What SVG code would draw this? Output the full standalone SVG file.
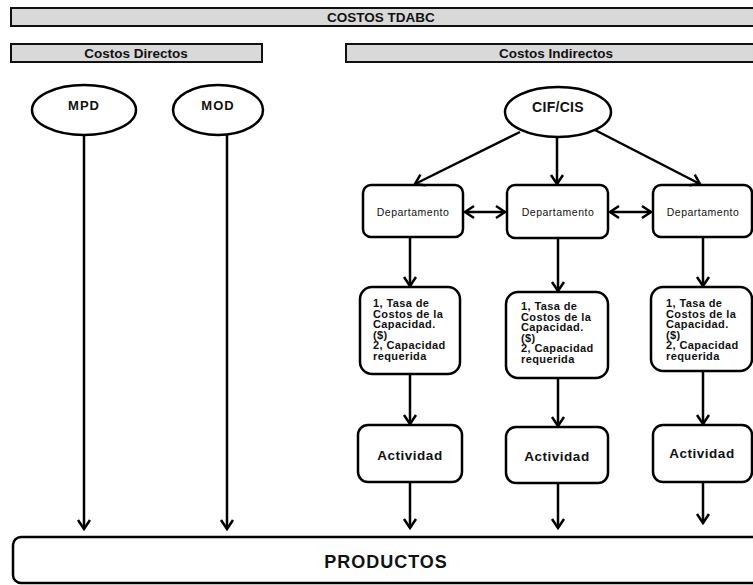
<svg xmlns="http://www.w3.org/2000/svg" width="753" height="585" viewBox="0 0 753 585">
<style>
  .bar { fill: #d9d9d9; stroke: #111; stroke-width: 2; }
  .hdr { font-family: "Liberation Sans", Arial, sans-serif; font-weight: bold; font-size: 13.5px; fill: #111; text-anchor: middle; }
  .node { fill: #fff; stroke: #000; stroke-width: 2.5; }
  .ell { font-family: "Liberation Sans", Arial, sans-serif; font-weight: bold; font-size: 13px; fill: #111; text-anchor: middle; letter-spacing: 1px; }
  .dep { font-family: "Liberation Sans", Arial, sans-serif; font-size: 10.5px; fill: #111; text-anchor: middle; letter-spacing: 0.5px; }
  .cap { font-family: "Liberation Sans", Arial, sans-serif; font-weight: bold; font-size: 11px; fill: #111; letter-spacing: 0.4px; }
  .act { font-family: "Liberation Sans", Arial, sans-serif; font-weight: bold; font-size: 13.5px; fill: #111; text-anchor: middle; letter-spacing: 0.5px; }
  .prod { font-family: "Liberation Sans", Arial, sans-serif; font-weight: bold; font-size: 18px; fill: #111; text-anchor: middle; letter-spacing: 1px; }
  .conn line { stroke: #000; stroke-width: 2.5; fill: none; marker-end: url(#ah); }
  .conn line.dbl { marker-start: url(#ah2); }
</style>
<defs>
  <marker id="ah" markerUnits="userSpaceOnUse" viewBox="-14 -9 16 18" markerWidth="16" markerHeight="18" refX="0" refY="0" orient="auto" overflow="visible">
    <path d="M-9,-6 L0,0 L-9,6" fill="none" stroke="#000" stroke-width="2.5"/>
  </marker>
  <marker id="ah2" markerUnits="userSpaceOnUse" viewBox="-14 -9 16 18" markerWidth="16" markerHeight="18" refX="0" refY="0" orient="auto-start-reverse" overflow="visible">
    <path d="M-9,-6 L0,0 L-9,6" fill="none" stroke="#000" stroke-width="2.5"/>
  </marker>
</defs>
<rect width="753" height="585" fill="#fff"/>

<g id="hdr-tdabc">
  <rect class="bar" x="11" y="8" width="760" height="18"/>
  <text class="hdr" x="381" y="22">COSTOS TDABC</text>
</g>
<g id="hdr-directos">
  <rect class="bar" x="11" y="44" width="251" height="18"/>
  <text class="hdr" x="136" y="58">Costos Directos</text>
</g>
<g id="hdr-indirectos">
  <rect class="bar" x="346" y="44" width="420" height="18"/>
  <text class="hdr" x="556" y="58">Costos Indirectos</text>
</g>

<g id="mpd">
  <ellipse class="node" cx="84" cy="110" rx="52" ry="25"/>
  <text class="ell" x="84" y="110">MPD</text>
</g>
<g id="mod">
  <ellipse class="node" cx="218" cy="110" rx="45" ry="25"/>
  <text class="ell" x="218" y="110">MOD</text>
</g>
<g id="cif">
  <ellipse class="node" cx="558" cy="112" rx="53" ry="25"/>
  <text class="ell" x="558" y="112" style="font-size:14px;letter-spacing:0.3px">CIF/CIS</text>
</g>

<g id="dep1">
  <rect class="node" x="363" y="185" width="100" height="52" rx="8"/>
  <text class="dep" x="413" y="215.5">Departamento</text>
</g>
<g id="dep2">
  <rect class="node" x="507" y="185" width="101" height="53" rx="8"/>
  <text class="dep" x="558" y="215.5">Departamento</text>
</g>
<g id="dep3">
  <rect class="node" x="653" y="185" width="99" height="52" rx="8"/>
  <text class="dep" x="703" y="215.5">Departamento</text>
</g>

<g id="cap1">
  <rect class="node" x="360" y="287" width="100" height="87" rx="12"/>
  <text class="cap" x="373" y="307">1, Tasa de</text>
  <text class="cap" x="373" y="317.6">Costos de la</text>
  <text class="cap" x="373" y="328.2">Capacidad.</text>
  <text class="cap" x="373" y="338.8">($)</text>
  <text class="cap" x="373" y="349.4">2, Capacidad</text>
  <text class="cap" x="373" y="360">requerida</text>
</g>
<g id="cap2">
  <rect class="node" x="506" y="292" width="102" height="86" rx="12"/>
  <text class="cap" x="521" y="310">1, Tasa de</text>
  <text class="cap" x="521" y="320.6">Costos de la</text>
  <text class="cap" x="521" y="331.2">Capacidad.</text>
  <text class="cap" x="521" y="341.8">($)</text>
  <text class="cap" x="521" y="352.4">2, Capacidad</text>
  <text class="cap" x="521" y="363">requerida</text>
</g>
<g id="cap3">
  <rect class="node" x="651" y="287" width="101" height="84" rx="12"/>
  <text class="cap" x="666" y="307">1, Tasa de</text>
  <text class="cap" x="666" y="317.6">Costos de la</text>
  <text class="cap" x="666" y="328.2">Capacidad.</text>
  <text class="cap" x="666" y="338.8">($)</text>
  <text class="cap" x="666" y="349.4">2, Capacidad</text>
  <text class="cap" x="666" y="360">requerida</text>
</g>

<g id="act1">
  <rect class="node" x="358" y="425" width="104" height="57" rx="10"/>
  <text class="act" x="410" y="460">Actividad</text>
</g>
<g id="act2">
  <rect class="node" x="506" y="427" width="102" height="56" rx="10"/>
  <text class="act" x="557" y="461">Actividad</text>
</g>
<g id="act3">
  <rect class="node" x="653" y="425" width="99" height="57" rx="10"/>
  <text class="act" x="702" y="458">Actividad</text>
</g>

<g id="productos">
  <rect class="node" x="13" y="537" width="760" height="46" rx="8"/>
  <text class="prod" x="386" y="568">PRODUCTOS</text>
</g>

<g id="connectors" class="conn">
  <line x1="84" y1="135" x2="84" y2="529"/>
  <line x1="227" y1="135" x2="227" y2="529"/>
  <line x1="520" y1="132" x2="415" y2="184"/>
  <line x1="557" y1="137" x2="557" y2="184"/>
  <line x1="595" y1="130" x2="700" y2="184"/>
  <line class="dbl" x1="465" y1="212" x2="505" y2="212"/>
  <line class="dbl" x1="610" y1="212" x2="651" y2="212"/>
  <line x1="410" y1="237" x2="410" y2="286"/>
  <line x1="558" y1="238" x2="558" y2="291"/>
  <line x1="703" y1="237" x2="703" y2="286"/>
  <line x1="410" y1="374" x2="410" y2="424"/>
  <line x1="558" y1="378" x2="558" y2="426"/>
  <line x1="703" y1="371" x2="703" y2="424"/>
  <line x1="410" y1="482" x2="410" y2="528"/>
  <line x1="558" y1="483" x2="558" y2="528"/>
  <line x1="703" y1="482" x2="703" y2="523"/>
</g>
</svg>
